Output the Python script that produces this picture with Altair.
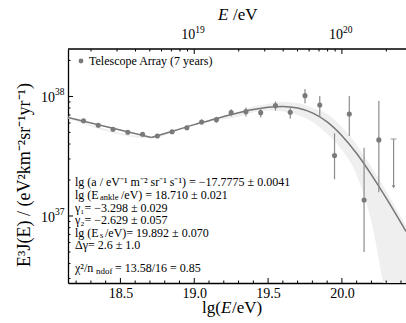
import altair as alt
import numpy as np
import pandas as pd

# Telescope Array (7 years): E^3 J(E) in units of 1e37 eV^2 km^-2 sr^-1 yr^-1
lg_e = [18.25, 18.35, 18.45, 18.55, 18.65, 18.75, 18.85, 18.95, 19.05, 19.15,
        19.25, 19.35, 19.45, 19.55, 19.65, 19.75, 19.85, 19.95, 20.05, 20.15, 20.25]
flux = [6.27, 5.74, 5.32, 5.02, 4.83, 4.67, 5.07, 5.48, 6.12, 6.40,
        7.32, 7.46, 7.32, 8.38, 7.37, 10.16, 8.49, 3.20, 7.14, 1.36, 4.33]
flux_lo = [6.12, 5.60, 5.18, 4.87, 4.68, 4.51, 4.88, 5.24, 5.82, 6.03,
           6.83, 6.80, 6.67, 7.61, 6.52, 8.77, 6.78, 2.03, 4.67, 0.50, 1.58]
flux_hi = [6.42, 5.89, 5.45, 5.14, 4.97, 4.84, 5.26, 5.72, 6.42, 6.76,
           7.82, 8.09, 8.01, 9.08, 8.25, 11.56, 10.10, 4.92, 10.10, 3.73, 9.17]

# upper limit in the last bin
ul_lg_e = [20.35]
ul_value = [4.41]
ul_tip = [1.75]

# broken power law fit with suppression (below / above the ankle)
fit_lg_e_below = [18.145, 18.71]
fit_below = [6.68, 4.54]
fit_lg_e_above = [18.71, 18.8, 18.9, 19.0, 19.1, 19.2, 19.3, 19.4, 19.5, 19.6,
                  19.7, 19.8, 19.9, 20.0, 20.1, 20.2, 20.3, 20.434]
fit_above = [4.54, 4.90, 5.33, 5.81, 6.27, 6.79, 7.31, 7.78, 8.13, 8.26,
             8.02, 7.29, 6.12, 4.69, 3.33, 2.21, 1.41, 0.743]

# uncertainty band of the fit
band_lg_e = [18.145, 18.71, 18.9, 19.1, 19.3, 19.4, 19.5, 19.6, 19.7, 19.8,
             19.9, 20.0, 20.1, 20.2, 20.3, 20.434]
band_lo = [6.55, 4.47, 5.25, 6.17, 6.75, 7.35, 7.64, 7.48, 7.00, 6.12,
           4.85, 3.56, 2.20, 0.891, 0.198, 0.029]
band_hi = [6.80, 4.61, 5.42, 6.38, 7.43, 8.24, 8.65, 8.99, 8.83, 8.02,
           7.14, 5.56, 3.93, 2.57, 1.62, 0.824]

# axis ticks
bottom_major = [18.5, 19.0, 19.5, 20.0]
bottom_minor = [18.2, 18.3, 18.4, 18.6, 18.7, 18.8, 18.9, 19.1, 19.2, 19.3,
                19.4, 19.6, 19.7, 19.8, 19.9, 20.1, 20.2, 20.3, 20.4]
left_major = [1, 10]
left_exponents = ["37", "38"]
left_minor = [0.3, 0.4, 0.5, 0.6, 0.7, 0.8, 0.9, 2, 3, 4, 5, 6, 7, 8, 9, 20]
top_major_energy = [1e19, 1e20]
top_exponents = ["19", "20"]
top_minor_energy = [2e18, 3e18, 4e18, 5e18, 6e18, 7e18, 8e18, 9e18,
                    2e19, 3e19, 4e19, 5e19, 6e19, 7e19, 8e19, 9e19, 2e20]

FONT = "Liberation Serif"
W, H = 338, 234
GREY = "#7a7a7a"
BAR = "#8c8c8c"

xscale = alt.Scale(domain=[18.145, 20.434], nice=False, zero=False)
yscale = alt.Scale(type="log", domain=[0.275, 24.95], nice=False)
xaxis = alt.Axis(values=bottom_major, format=".1f", ticks=False, grid=False,
                 domainColor="black", domainWidth=1.3, labelFont=FONT,
                 labelFontSize=14, labelColor="black", labelPadding=3,
                 title=None)
yaxis = alt.Axis(values=left_major, labels=False, ticks=False, grid=False,
                 domainColor="black", domainWidth=1.3, title=None)


def X(field):
    return alt.X(f"{field}:Q", scale=xscale, axis=xaxis)


def Y(field):
    return alt.Y(f"{field}:Q", scale=yscale, axis=yaxis)


def one(**cols):
    return pd.DataFrame({k: [v] for k, v in cols.items()})


def text(s, x, y, size=12, align="left", style="normal", angle=0):
    return alt.Chart(one(s=s)).mark_text(
        font=FONT, fontSize=size, color="black", align=align,
        baseline="middle", fontStyle=style, angle=angle
    ).encode(x=alt.value(x), y=alt.value(y), text="s:N")


points = pd.DataFrame({"lgE": lg_e, "v": flux, "lo": flux_lo, "hi": flux_hi})
fit = pd.concat([
    pd.DataFrame({"lgE": fit_lg_e_below, "v": fit_below, "seg": "below"}),
    pd.DataFrame({"lgE": fit_lg_e_above, "v": fit_above, "seg": "above"}),
])
band = pd.DataFrame({"lgE": band_lg_e, "lo": band_lo, "hi": band_hi})
limit = pd.DataFrame({"lgE": ul_lg_e, "v": ul_value, "tip": ul_tip})

band_layer = alt.Chart(band).mark_area(
    color="#efefef", interpolate="monotone", clip=True
).encode(x=X("lgE"), y=Y("lo"), y2="hi")

fit_layer = alt.Chart(fit).mark_line(
    color="#767676", strokeWidth=1.5, interpolate="monotone", clip=True
).encode(x=X("lgE"), y=Y("v"), detail="seg:N")

bars = alt.Chart(points).mark_rule(color=BAR, strokeWidth=1.2, clip=True).encode(
    x=X("lgE"), y=Y("lo"), y2="hi")
dots = alt.Chart(points).mark_circle(size=26, color=GREY, opacity=1).encode(
    x=X("lgE"), y=Y("v"))

limit_bar = alt.Chart(limit).mark_rule(color=BAR, strokeWidth=1.2).encode(
    x=X("lgE"), y=Y("v"), y2="tip")
limit_cap = alt.Chart(limit).mark_tick(
    orient="horizontal", size=6, thickness=1.2, color=BAR
).encode(x=X("lgE"), y=Y("v"))
limit_head = alt.Chart(limit).mark_point(
    shape="triangle-down", size=14, filled=True, color=BAR, opacity=1
).encode(x=X("lgE"), y=Y("tip"))


def xticks(values, length, at_top):
    df = pd.DataFrame({"t": values})
    y0, y1 = (0, length) if at_top else (H, H - length)
    return alt.Chart(df).mark_rule(color="black", strokeWidth=1).encode(
        x=X("t"), y=alt.value(y0), y2=alt.value(y1))


def yticks(values, length):
    df = pd.DataFrame({"t": values})
    return alt.Chart(df).mark_rule(color="black", strokeWidth=1).encode(
        y=Y("t"), x=alt.value(0), x2=alt.value(length))


tick_layers = [
    xticks(bottom_major, 5, False),
    xticks(bottom_minor, 2.5, False),
    xticks(list(np.log10(top_major_energy)), 5, True),
    xticks(list(np.log10(top_minor_energy)), 2.5, True),
    yticks(left_major, 5),
    yticks(left_minor, 2.5),
]

top_border = alt.Chart(one(k=0)).mark_rule(color="black", strokeWidth=1.3).encode(
    x=alt.value(0), x2=alt.value(W), y=alt.value(0))

# power-of-ten labels: base "10" plus a raised exponent
top_df = pd.DataFrame({"t": list(np.log10(top_major_energy)), "e": top_exponents})
top_base = alt.Chart(top_df).mark_text(
    font=FONT, fontSize=14, color="black", align="right", baseline="middle", dx=1
).encode(x=X("t"), y=alt.value(-14), text=alt.value("10"))
top_exp = alt.Chart(top_df).mark_text(
    font=FONT, fontSize=9.5, color="black", align="left", baseline="middle", dx=1
).encode(x=X("t"), y=alt.value(-19), text="e:N")

left_df = pd.DataFrame({"t": left_major, "e": left_exponents})
left_base = alt.Chart(left_df).mark_text(
    font=FONT, fontSize=14, color="black", align="right", baseline="middle", dy=2
).encode(y=Y("t"), x=alt.value(-13), text=alt.value("10"))
left_exp = alt.Chart(left_df).mark_text(
    font=FONT, fontSize=9.5, color="black", align="left", baseline="middle", dy=-4
).encode(y=Y("t"), x=alt.value(-13), text="e:N")

titles = [
    text("E", 150, -34, size=17, style="italic"),
    text("/eV", 165, -34, size=17),
    text("lg(", 134, 259, size=17),
    text("E", 153, 259, size=17, style="italic"),
    text("/eV)", 164, 259, size=17),
    text("E³J(E) / (eV²km⁻²sr⁻¹yr⁻¹)", -43, 126, size=18, align="center", angle=270),
]

legend_dot = alt.Chart(one(k=0)).mark_circle(size=24, color=GREY, opacity=1).encode(
    x=alt.value(13), y=alt.value(12))

annotations = [
    text("Telescope Array (7 years)", 21, 12),
    text("lg (a / eV⁻¹ m⁻² sr⁻¹ s⁻¹) = −17.7775 ± 0.0041", 7, 133),
    text("lg (E", 7, 146),
    text("ankle", 32, 148, size=8.5),
    text("/eV) = 18.710 ± 0.021", 53, 146),
    text("γ₁= −3.298 ± 0.029", 7, 158.5),
    text("γ₂= −2.629 ± 0.057", 7, 171),
    text("lg (E", 7, 183.5),
    text("s", 32, 185.5, size=8.5),
    text("/eV)= 19.892 ± 0.070", 37, 183.5),
    text("Δγ= 2.6 ± 1.0", 7, 196),
    text("χ²/n", 7, 219),
    text("ndof", 28, 222, size=9),
    text("= 13.58/16 = 0.85", 47, 219),
]

chart = alt.layer(
    band_layer, fit_layer, bars, dots, limit_bar, limit_cap, limit_head,
    *tick_layers, top_border, top_base, top_exp, left_base, left_exp,
    *titles, legend_dot, *annotations,
).properties(
    width=W, height=H,
    padding={"left": 68, "top": 49, "right": 0, "bottom": 40},
    autosize="none",
).configure_view(stroke=None)

chart.save("out.html", embed_options={"renderer": "svg", "actions": False})
